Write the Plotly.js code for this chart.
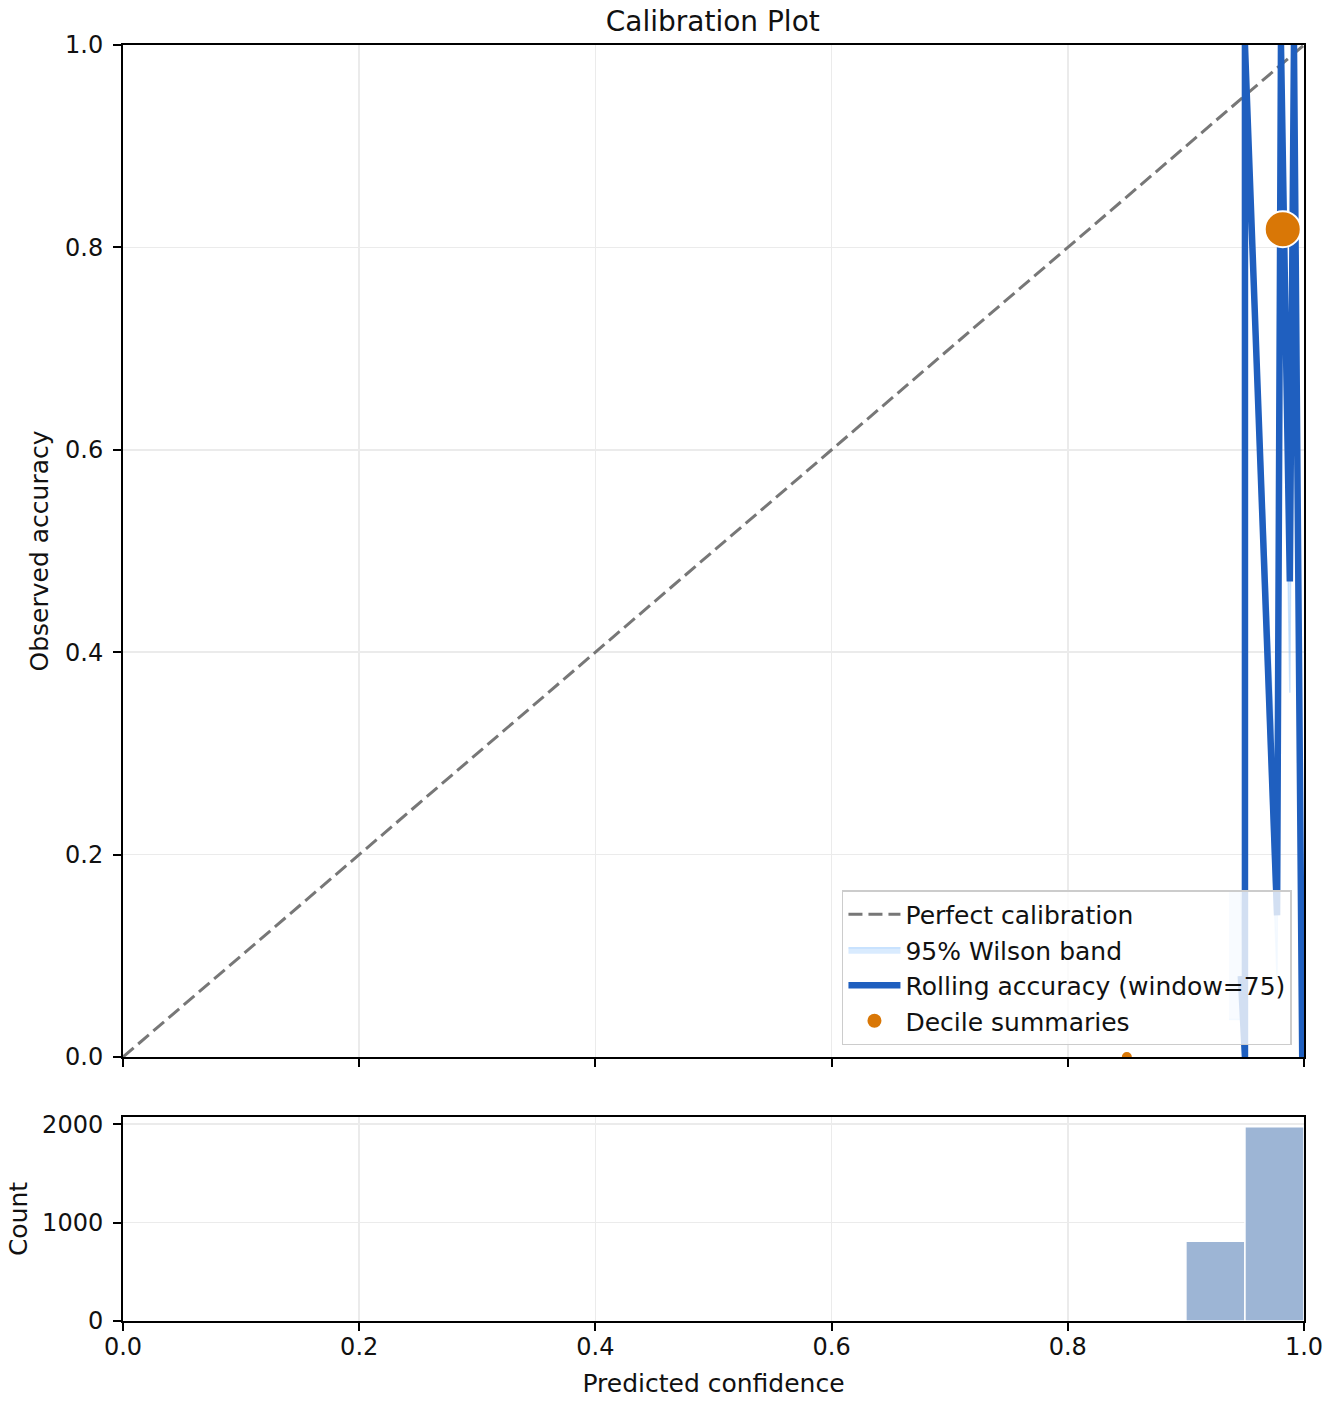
<!DOCTYPE html>
<html>
<head>
<meta charset="utf-8">
<script src="https://cdn.plot.ly/plotly-3.0.1.min.js"></script>
<style>
  body { margin: 0; background: #fff; }
  #chart { width: 1332px; height: 1404px; }
</style>
</head>
<body>
<div id="chart"></div>
<script>
// Rolling accuracy (window = 75), in the order it is drawn
const rollConf = [0.9465, 0.9500, 0.9500, 0.9772, 0.9805, 0.9880, 0.9915, 0.9985];
const rollAcc = [0.08, 0.00, 1.00, 0.14, 1.00, 0.47, 1.00, 0.00];

// 95% Wilson band around the rolling accuracy
const bandConf = [0.9365, 0.9465, 0.9500, 0.9500, 0.9772, 0.9805, 0.9880, 0.9915, 0.9985];
const bandLo = [0.037, 0.037, 0.000, 0.951, 0.077, 0.951, 0.360, 0.951, 0.000];
const bandHi = [0.164, 0.164, 0.049, 1.000, 0.240, 1.000, 0.580, 1.000, 0.049];

// Decile summaries (mean confidence, accuracy, marker size)
const decileConf = [0.982, 0.850];
const decileAcc = [0.818, 0.000];
const decileSize = [36, 12];

// Histogram of predicted confidence
const binCenters = [0.925, 0.975];
const binCounts = [810, 1975];
const binWidth = 0.05;

const ticks01 = [0, 0.2, 0.4, 0.6, 0.8, 1.0];

// fill_between style polygon: upper forward, lower backward
const bandX = bandConf.concat(bandConf.slice().reverse());
const bandY = bandHi.concat(bandLo.slice().reverse());

var diagTrace = {
  x: [0, 1],
  y: [0, 1],
  name: 'Perfect calibration',
  mode: 'lines',
  type: 'scatter',
  line: { color: '#777777', width: 3, dash: '14px,6px' },
  xaxis: 'x',
  yaxis: 'y',
};

var bandTrace = {
  x: bandX,
  y: bandY,
  name: '95% Wilson band',
  mode: 'lines',
  type: 'scatter',
  fill: 'toself',
  fillcolor: 'rgba(147,197,253,0.35)',
  line: { color: 'rgba(147,197,253,0.45)', width: 1.5 },
  xaxis: 'x',
  yaxis: 'y',
};

var rollTrace = {
  x: rollConf,
  y: rollAcc,
  name: 'Rolling accuracy (window=75)',
  mode: 'lines',
  type: 'scatter',
  line: { color: '#1f5fbf', width: 6.5 },
  xaxis: 'x',
  yaxis: 'y',
};

var decileTrace = {
  x: decileConf,
  y: decileAcc,
  name: 'Decile summaries',
  mode: 'markers',
  type: 'scatter',
  marker: {
    color: '#d97706',
    opacity: 1,
    size: decileSize,
    line: { color: '#ffffff', width: 2 },
  },
  xaxis: 'x',
  yaxis: 'y',
};

var histTrace = {
  x: binCenters,
  y: binCounts,
  width: binWidth,
  type: 'bar',
  showlegend: false,
  marker: { color: '#9db5d5', line: { color: '#ffffff', width: 1.5 } },
  xaxis: 'x2',
  yaxis: 'y2',
};

var axisFont = { family: 'DejaVu Sans', size: 24, color: '#111111' };
var titleFont = { family: 'DejaVu Sans', size: 25, color: '#111111' };

var baseAxis = {
  showline: true,
  mirror: true,
  linecolor: '#000000',
  linewidth: 2,
  ticks: 'outside',
  ticklen: 8,
  tickwidth: 2,
  tickcolor: '#000000',
  showgrid: true,
  gridcolor: '#ebebeb',
  gridwidth: 1.5,
  zeroline: false,
  tickfont: axisFont,
};

var layout = {
  width: 1332,
  height: 1404,
  margin: { l: 123, r: 28, t: 45, b: 83 },
  paper_bgcolor: '#ffffff',
  plot_bgcolor: '#ffffff',
  font: axisFont,
  showlegend: true,
  title: {
    text: 'Calibration Plot',
    font: { family: 'DejaVu Sans', size: 28, color: '#111111' },
    x: 0.5351,
    xanchor: 'center',
    y: 0.985,
    yanchor: 'middle',
  },
  legend: {
    x: 0.9898,
    xanchor: 'right',
    y: 0.2163,
    yanchor: 'bottom',
    bgcolor: 'rgba(255,255,255,0.8)',
    bordercolor: '#cccccc',
    borderwidth: 1.5,
    itemwidth: 52,
    font: { family: 'DejaVu Sans', size: 25, color: '#111111' },
  },
  xaxis: Object.assign({}, baseAxis, {
    domain: [0, 1],
    anchor: 'y',
    range: [0, 1],
    tickvals: ticks01,
    showticklabels: false,
  }),
  yaxis: Object.assign({}, baseAxis, {
    domain: [0.2069, 1],
    anchor: 'x',
    range: [0, 1],
    tickvals: ticks01,
    tickformat: '.1f',
    ticklabelstandoff: 5,
    title: { text: 'Observed accuracy', font: titleFont, standoff: 9 },
  }),
  xaxis2: Object.assign({}, baseAxis, {
    domain: [0, 1],
    anchor: 'y2',
    range: [0, 1],
    tickvals: ticks01,
    tickformat: '.1f',
    ticklabelstandoff: -5,
    title: { text: 'Predicted confidence', font: titleFont, standoff: 15 },
  }),
  yaxis2: Object.assign({}, baseAxis, {
    domain: [0, 0.1599],
    anchor: 'x2',
    range: [0, 2074],
    tickvals: [0, 1000, 2000],
    ticklabelstandoff: 5,
    title: { text: 'Count', font: titleFont, standoff: 7 },
  }),
  bargap: 0,
};

var config = { displayModeBar: false, staticPlot: true };

Plotly.newPlot('chart', [diagTrace, bandTrace, rollTrace, decileTrace, histTrace], layout, config);
</script>
</body>
</html>
